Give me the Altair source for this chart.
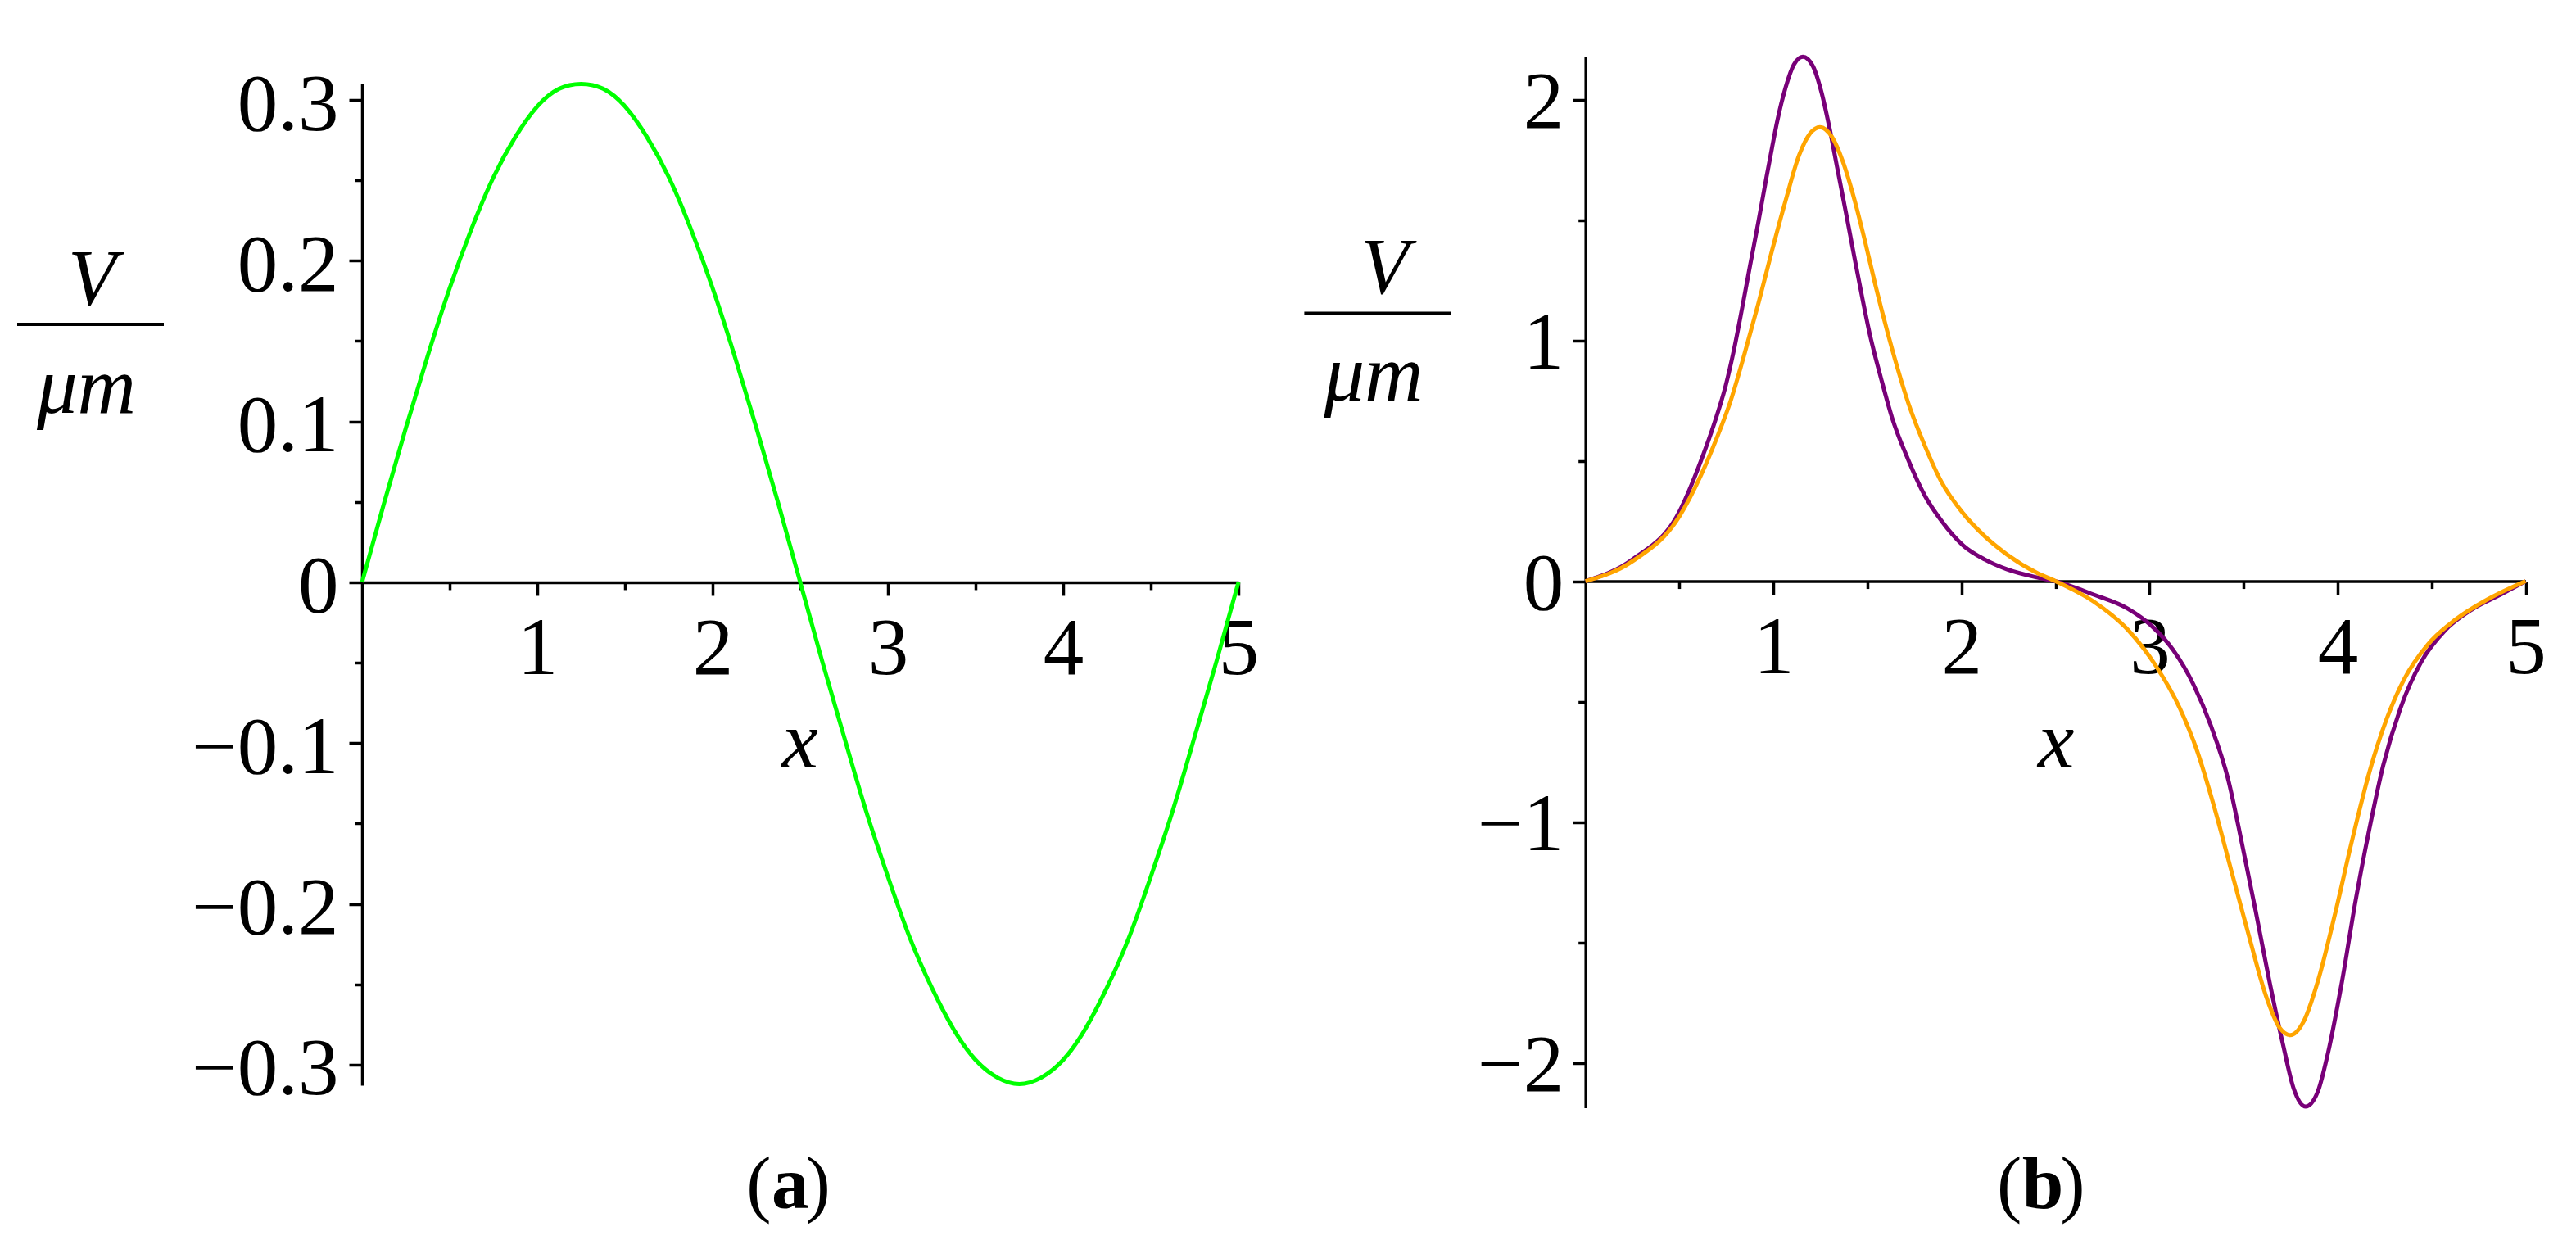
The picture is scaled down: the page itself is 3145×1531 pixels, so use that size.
import altair as alt
import pandas as pd

# ---------------- data ----------------
# panel (a): green curve
xa = [0.0, 0.125, 0.25, 0.375, 0.5, 0.625, 0.75, 0.875, 1.0, 1.125, 1.25, 1.375, 1.5, 1.625,
      1.75, 1.875, 2.0, 2.125, 2.25, 2.375, 2.5, 2.625, 2.75, 2.875, 3.0, 3.125, 3.25, 3.375,
      3.5, 3.625, 3.75, 3.875, 4.0, 4.125, 4.25, 4.375, 4.5, 4.625, 4.75, 4.875, 5.0]
va = [0.000, 0.049, 0.096, 0.141, 0.183, 0.220, 0.252, 0.277, 0.296, 0.307, 0.310, 0.307,
      0.296, 0.277, 0.252, 0.220, 0.183, 0.141, 0.096, 0.049, 0.000, -0.049, -0.096, -0.142,
      -0.183, -0.221, -0.252, -0.278, -0.297, -0.308, -0.312, -0.308, -0.297, -0.278, -0.252,
      -0.221, -0.183, -0.142, -0.096, -0.049, 0.000]

# panel (b): purple curve
purple_x = [0.00, 0.25, 0.50, 0.614, 0.687, 0.745, 0.788, 0.832, 0.875, 0.919, 0.963, 0.992,
            1.021, 1.064, 1.108, 1.156, 1.209, 1.253, 1.296, 1.340, 1.384, 1.427, 1.471, 1.514,
            1.572, 1.630, 1.717, 1.805, 1.892, 2.008, 2.124, 2.240, 2.400, 2.500, 2.703, 2.886,
            3.014, 3.125, 3.234, 3.326, 3.418, 3.491, 3.564, 3.638, 3.711, 3.766, 3.830, 3.894,
            3.949, 4.023, 4.096, 4.169, 4.243, 4.334, 4.444, 4.573, 4.719, 4.866, 5.000]
purple_v = [0.000, 0.090, 0.290, 0.500, 0.660, 0.810, 0.955, 1.130, 1.310, 1.490, 1.680, 1.800,
            1.915, 2.050, 2.145, 2.178, 2.140, 2.037, 1.889, 1.712, 1.535, 1.358, 1.181, 1.019,
            0.842, 0.680, 0.503, 0.355, 0.252, 0.149, 0.090, 0.050, 0.016, 0.000, -0.056, -0.115,
            -0.188, -0.285, -0.430, -0.600, -0.823, -1.088, -1.369, -1.664, -1.929, -2.106,
            -2.182, -2.121, -1.959, -1.664, -1.325, -1.029, -0.764, -0.528, -0.336, -0.203,
            -0.115, -0.056, 0.000]

# panel (b): orange curve
orange_x = [0.00, 0.25, 0.50, 0.614, 0.701, 0.774, 0.846, 0.919, 0.992, 1.064, 1.137, 1.195,
            1.247, 1.311, 1.369, 1.427, 1.485, 1.543, 1.601, 1.659, 1.717, 1.805, 1.892, 2.008,
            2.124, 2.240, 2.400, 2.500, 2.703, 2.886, 3.033, 3.161, 3.253, 3.345, 3.436, 3.528,
            3.619, 3.692, 3.748, 3.821, 3.894, 3.986, 4.078, 4.169, 4.261, 4.352, 4.481, 4.628,
            4.792, 5.000]
orange_v = [0.000, 0.083, 0.270, 0.440, 0.600, 0.754, 0.945, 1.152, 1.373, 1.580, 1.771, 1.860,
            1.886, 1.845, 1.742, 1.594, 1.417, 1.226, 1.049, 0.886, 0.739, 0.562, 0.414, 0.282,
            0.186, 0.112, 0.035, 0.000, -0.085, -0.203, -0.351, -0.528, -0.705, -0.941, -1.206,
            -1.472, -1.722, -1.855, -1.885, -1.826, -1.664, -1.383, -1.073, -0.793, -0.572,
            -0.410, -0.262, -0.159, -0.078, 0.000]

# tick values
x_major = [1, 2, 3, 4, 5]
x_minor = [0.5, 1.5, 2.5, 3.5, 4.5]
ya_major = [-0.3, -0.2, -0.1, 0, 0.1, 0.2, 0.3]
ya_minor = [-0.25, -0.15, -0.05, 0.05, 0.15, 0.25]
yb_major = [-2, -1, 0, 1, 2]
yb_minor = [-1.5, -0.5, 0.5, 1.5]

# texts
y_title_num = "V"
y_title_den = "\u03bcm"
x_title = "x"
captions = ["a", "b"]

dfa = pd.DataFrame({"x": xa, "v": va})
dfp = pd.DataFrame({"x": purple_x, "v": purple_v})
dfo = pd.DataFrame({"x": orange_x, "v": orange_v})

# ---------------- layout / style ----------------
W, H = 3120, 1500
FONT = "Liberation Serif"
LW = 3.5

XA_D, XA_R = [0, 5], [434, 1504]
YA_D, YA_R = [-0.3128, 0.3102], [1317, 94]
XB_D, XB_R = [0, 5], [1927.7, 3075.5]
YB_D, YB_R = [-2.187, 2.179], [1344.5, 61]


def sc(d, r):
    return alt.Scale(domain=d, range=r, nice=False, zero=False)


def zero_px(d, r):
    return r[0] + (0 - d[0]) / (d[1] - d[0]) * (r[1] - r[0])


def x_axis(off, major, values):
    if major:
        return alt.Axis(orient="bottom", offset=off, values=values, format="d",
                        tickSize=16, tickWidth=LW, tickColor="black",
                        domainWidth=LW, domainColor="black",
                        labelFont=FONT, labelFontSize=99, labelColor="black",
                        labelPadding=18, labelFlush=False, labelOverlap=False,
                        labelAngle=0, grid=False, title=None)
    return alt.Axis(orient="bottom", offset=off, values=values, tickSize=9,
                    tickWidth=LW, tickColor="black", labels=False, domain=False,
                    grid=False, title=None)


def y_axis(off, major, values, fmt, pad, loff):
    if major:
        return alt.Axis(orient="left", offset=off, values=values, format=fmt,
                        tickSize=16, tickWidth=LW, tickColor="black",
                        domainWidth=LW, domainColor="black",
                        labelFont=FONT, labelFontSize=99, labelColor="black",
                        labelPadding=pad, labelOffset=loff, labelFlush=False,
                        labelOverlap=False, grid=False, title=None)
    return alt.Axis(orient="left", offset=off, values=values, tickSize=9,
                    tickWidth=LW, tickColor="black", labels=False, domain=False,
                    grid=False, title=None)


def text(t, x, y, size, style="italic", weight="normal", align="center"):
    return alt.Chart(pd.DataFrame({"t": [t]})).mark_text(
        font=FONT, fontSize=size, fontStyle=style, fontWeight=weight,
        align=align, baseline="alphabetic", color="black"
    ).encode(text="t:N", x=alt.value(x), y=alt.value(y))


def hline(x1, x2, y):
    return alt.Chart(pd.DataFrame({"k": [0]})).mark_rule(
        color="black", strokeWidth=4
    ).encode(x=alt.value(x1), x2=alt.value(x2), y=alt.value(y))


layers = []

# ---- panel (a) ----
xa_off = zero_px(YA_D, YA_R) - H
ya_off = -zero_px(XA_D, XA_R)
layers.append(
    alt.Chart(dfa).mark_line(color="#00FF00", strokeWidth=5, interpolate="natural").encode(
        x=alt.X("x:Q", scale=sc(XA_D, XA_R), axis=x_axis(xa_off, True, x_major)),
        y=alt.Y("v:Q", scale=sc(YA_D, YA_R), axis=y_axis(ya_off, True, ya_major, ".1~f", 13, 6)),
    )
)
layers.append(
    alt.Chart(dfa).mark_line(strokeOpacity=0).encode(
        x=alt.X("x:Q", scale=sc(XA_D, XA_R), axis=x_axis(xa_off, False, x_minor)),
        y=alt.Y("v:Q", scale=sc(YA_D, YA_R), axis=y_axis(ya_off, False, ya_minor, "", 0, 0)),
    )
)
layers += [
    text(y_title_num, 104.5, 364, 97),
    hline(13, 192, 388),
    text(y_title_den, 97.5, 496, 99),
    text(x_title, 968.7, 929, 100),
    text("(", 933.6, 1467, 91, style="normal", align="right"),
    text(captions[0], 956.7, 1467, 91, style="normal", weight="bold"),
    text(")", 975.4, 1467, 91, style="normal", align="left"),
]

# ---- panel (b) ----
xb_off = zero_px(YB_D, YB_R) - H
yb_off = -zero_px(XB_D, XB_R)
layers.append(
    alt.Chart(dfp).mark_line(color="#780078", strokeWidth=5, interpolate="monotone").encode(
        x=alt.X("x:Q", scale=sc(XB_D, XB_R), axis=x_axis(xb_off, True, x_major)),
        y=alt.Y("v:Q", scale=sc(YB_D, YB_R), axis=y_axis(yb_off, True, yb_major, "d", 11, 4)),
    )
)
layers.append(
    alt.Chart(dfo).mark_line(color="#FFA500", strokeWidth=5, interpolate="monotone").encode(
        x=alt.X("x:Q", scale=sc(XB_D, XB_R), axis=None),
        y=alt.Y("v:Q", scale=sc(YB_D, YB_R), axis=None),
    )
)
layers.append(
    alt.Chart(dfp).mark_line(strokeOpacity=0).encode(
        x=alt.X("x:Q", scale=sc(XB_D, XB_R), axis=x_axis(xb_off, False, x_minor)),
        y=alt.Y("v:Q", scale=sc(YB_D, YB_R), axis=y_axis(yb_off, False, yb_minor, "", 0, 0)),
    )
)
cb = 2486
layers += [
    text(y_title_num, 1682.6, 350, 97),
    hline(1584.4, 1763, 374.4),
    text(y_title_den, 1669, 480.7, 99),
    text(x_title, 2502.3, 929.3, 100),
    text("(", cb - 25.6, 1467, 91, style="normal", align="right"),
    text(captions[1], cb, 1467, 91, style="normal", weight="bold"),
    text(")", cb + 21.2, 1467, 91, style="normal", align="left"),
]

chart = alt.layer(*layers).resolve_scale(x="independent", y="independent").properties(
    width=W, height=H, padding=0, autosize=alt.AutoSizeParams(type="none")
).configure_view(stroke=None)

chart.save("out.html", embed_options={"renderer": "svg", "actions": False})
